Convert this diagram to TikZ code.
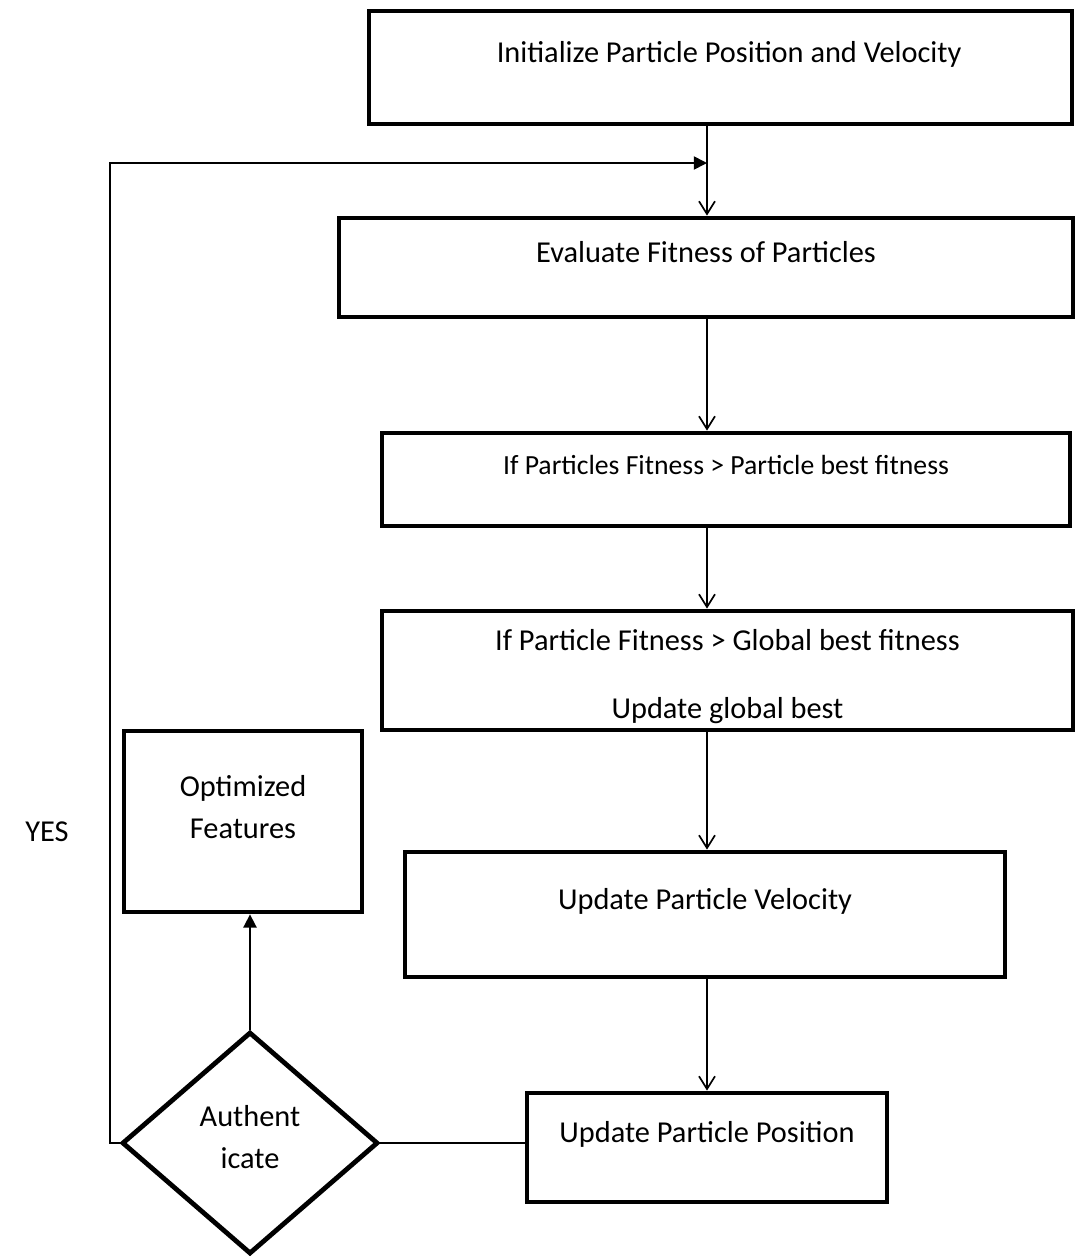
\documentclass[tikz,border=0pt]{standalone}
\usepackage{fontspec}
\setmainfont{Carlito}
\usetikzlibrary{shapes.geometric}
\usetikzlibrary{arrows.meta}

\tikzset{
  stepbox/.style={draw, line width=3.4pt, font=\fontsize{21.6}{30}\selectfont, text height=0.55cm, text depth=0.81cm},
  twoline/.style={draw, line width=3.4pt, align=center, font=\fontsize{21.6}{30}\selectfont},
  flow/.style={line width=1.2pt, -{Straight Barb[length=0.32cm,width=0.4cm]}},
  back/.style={line width=1.2pt, -{Triangle[length=0.33cm,width=0.33cm]}},
}

\begin{document}
\begin{tikzpicture}
  \useasboundingbox (0,0) rectangle (26.875,-31.425);

  % Main column of steps
  \node[stepbox, minimum width=17.575cm, minimum height=2.825cm] (init) at (18.0125,-1.6875) {\hspace*{0.43cm}Initialize Particle Position and Velocity};
  \node[stepbox, minimum width=18.35cm, minimum height=2.475cm] (fitness) at (17.65,-6.6875) {Evaluate Fitness of Particles};
  \node[stepbox, minimum width=17.2cm, minimum height=2.325cm, font=\fontsize{19.7}{30}\selectfont] (pbest) at (18.15,-11.9875) {If Particles Fitness > Particle best fitness};
  \node[twoline, minimum width=17.275cm, minimum height=2.975cm] (gbest) at (18.1875,-16.7625) {\mbox{}\\[-0.21cm]If Particle Fitness > Global best fitness\\[0.64cm]Update global best};
  \node[stepbox, minimum width=15cm, minimum height=3.125cm] (velocity) at (17.625,-22.8625) {Update Particle Velocity};
  \node[stepbox, minimum width=9cm, minimum height=2.725cm] (position) at (17.675,-28.6875) {Update Particle Position};

  % Decision and output
  \node[diamond, draw, line width=3.4pt, minimum width=6.4cm, minimum height=5.55cm, inner sep=0pt, align=center, font=\fontsize{21.6}{30}\selectfont] (auth) at (6.25,-28.575) {Authent\\icate\\[-0.76cm]\mbox{}};
  \node[twoline, minimum width=5.95cm, minimum height=4.525cm] (optimized) at (6.075,-20.5375) {Optimized\\Features\\[-0.34cm]\mbox{}};
  \node[font=\fontsize{21.6}{30}\selectfont] (yes) at (1.175,-20.8) {YES};

  % Helper points
  \coordinate (spine) at (17.675,0);
  \coordinate (merge) at (17.675,-4.075);
  \coordinate (corner) at (2.75,-4.075);

  % Flow arrows
  \draw[flow] (init.south -| spine) -- (fitness.north -| spine);
  \draw[flow] (fitness.south -| spine) -- (pbest.north -| spine);
  \draw[flow] (pbest.south -| spine) -- (gbest.north -| spine);
  \draw[flow] (gbest.south -| spine) -- (velocity.north -| spine);
  \draw[flow] (velocity.south -| spine) -- (position.north);

  % Loop back and exit
  \draw[back] (auth.west) -| (corner) -- (merge);
  \draw[back] (auth.north) -- (auth.north |- optimized.south);
  \draw[line width=1.2pt] (auth.east) -- (auth.east -| position.west);
\end{tikzpicture}
\end{document}
